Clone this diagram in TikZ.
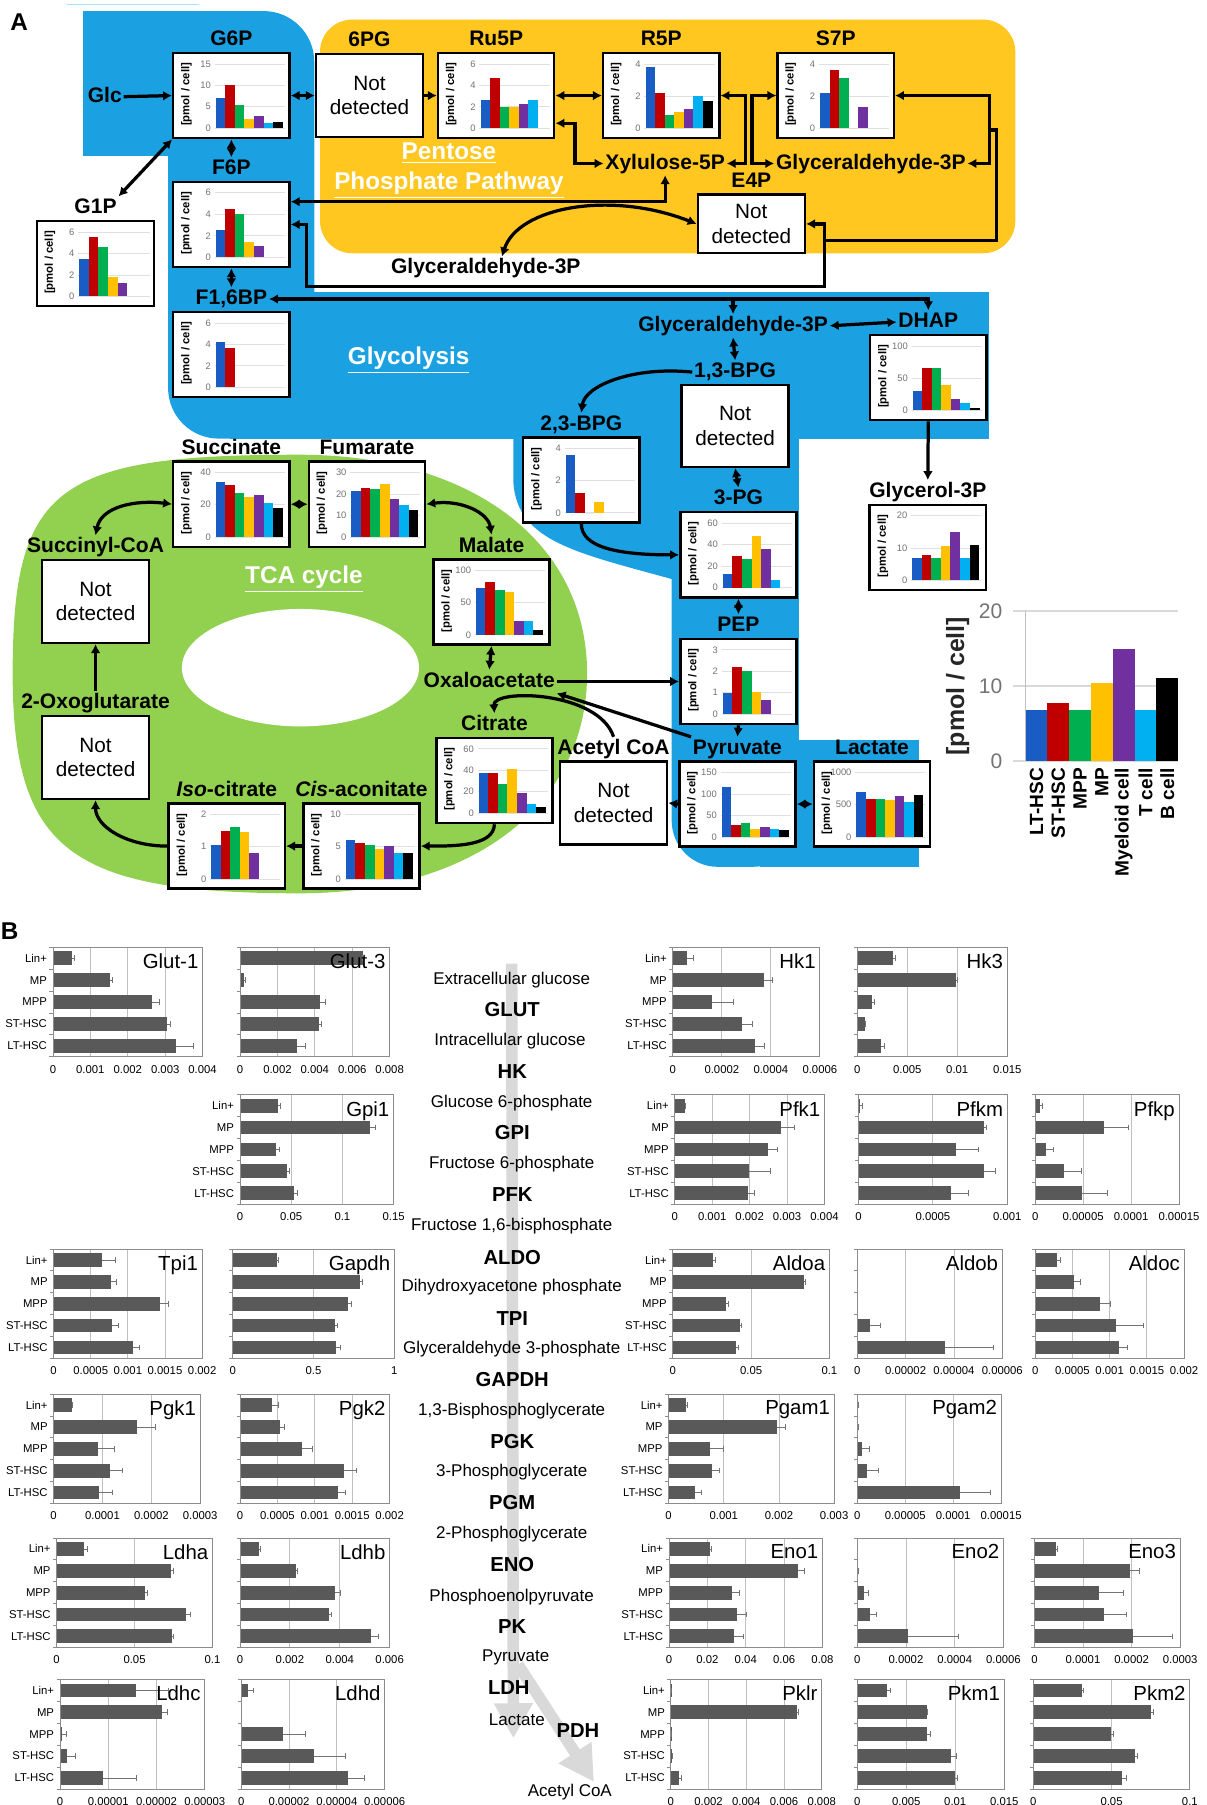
\documentclass[tikz,border=0pt]{standalone}
\usepackage{fontspec}
\setmainfont{Liberation Sans}
\usetikzlibrary{positioning,arrows.meta}
\definecolor{cellc1}{RGB}{24,92,196}
\definecolor{cellc2}{RGB}{192,0,0}
\definecolor{cellc3}{RGB}{0,176,80}
\definecolor{cellc4}{RGB}{255,192,0}
\definecolor{cellc5}{RGB}{112,48,160}
\definecolor{cellc6}{RGB}{0,176,240}
\definecolor{cellc7}{RGB}{0,0,0}
\definecolor{glyblue}{RGB}{27,161,226}
\definecolor{pppyellow}{RGB}{255,199,32}
\definecolor{tcagreen}{RGB}{146,208,80}
\definecolor{hbargray}{RGB}{89,89,89}

\tikzset{
  chartbox/.style={draw, line width=1.5pt, fill=white, inner sep=0pt, minimum width=101*0.025cm, minimum height=74*0.025cm},
  ndbox/.style={draw, line width=1.5pt, fill=white, inner sep=0pt, align=center, minimum width=93*0.025cm, minimum height=72*0.025cm, font=\fontsize{12.8}{15}\selectfont},
  metlbl/.style={font=\bfseries\fontsize{13}{15}\selectfont, inner sep=1pt, text height=9.5pt, text depth=2.6pt},
  reglbl/.style={text=white, align=center, font=\bfseries\fontsize{15}{18.5}\selectfont},
  conn/.style={line width=2pt, >={Latex[length=5.5pt,width=6pt]}},
  minigrid/.style={draw=black!12, line width=0.4pt},
  minitick/.style={text=black!55, anchor=east, inner sep=0pt, font=\fontsize{5.8}{6}\selectfont},
  miniylab/.style={rotate=90, inner sep=0pt, font=\bfseries\fontsize{7}{8}\selectfont},
  hframe/.style={draw=black!45, line width=0.5pt},
  hgrid/.style={draw=black!25, line width=0.5pt},
  hbar/.style={fill=hbargray},
  herr/.style={draw=black!55, line width=0.4pt},
  hcat/.style={anchor=east, inner sep=0pt, font=\fontsize{7}{8}\selectfont},
  htick/.style={inner sep=0pt, font=\fontsize{7}{8}\selectfont},
  htitle/.style={anchor=north east, inner sep=1pt, font=\fontsize{12.6}{14}\selectfont},
  pathtxt/.style={inner sep=1pt, font=\fontsize{10.5}{12}\selectfont},
  enztxt/.style={inner sep=1pt, font=\bfseries\fontsize{12.5}{14}\selectfont},
  flowbar/.style={draw=black!15, line width=0.25cm, -{Triangle[width=0.8cm,length=0.76cm]}},
}

% small metabolite chart: [width]{name}{centre}{max}{ticks}{values}
\newcommand\minichart[6][101]{%
  \node[chartbox, minimum width=#1*0.025cm] (#2) at (#3) {};
  \begin{scope}[shift={(#2.north west)}]
    \foreach \t [count=\j] in {#5} {
      \draw[minigrid] (37,{66.5-56*(\t/#4)}) -- ({#1-3},{66.5-56*(\t/#4)});
      \node[minitick] (#2-t\j) at (34,{66.5-56*(\t/#4)}) {\t};
    }
    \foreach \v [count=\i] in {#6}
      \fill[fill=cellc\i] ({38+8.3*(\i-1)},66.5) rectangle ++(8.3,{-56*(\v/#4)});
    \node[miniylab] (#2-y) at (12.5,37) {[pmol / cell]};
  \end{scope}%
}

% expression chart: [labels 0/1]{left}{top}{width}{intervals}{tick labels}{bar/error}{title}
\newcommand\hchart[8][0]{%
  \begin{scope}[shift={(#2,#3)}]
    \foreach \k in {1,...,#5}
      \draw[hgrid] ({#4*\k/#5},0) -- ({#4*\k/#5},95);
    \foreach \v/\e [count=\i from 0] in {#7} {
      \fill[hbar] (0,{3.5+19*\i}) rectangle ({#4*\v},{15.5+19*\i});
      \draw[herr] ({#4*\v},{9.5+19*\i}) -- ({#4*\e},{9.5+19*\i}) ++(0,-2.5) -- ++(0,5);
    }
    \ifnum#1=1
      \foreach \c [count=\i from 0] in {Lin+,MP,MPP,ST-HSC,LT-HSC}
        \node[hcat] (#8-c\i) at (-5,{9.5+19*\i}) {\c};
    \fi
    \foreach \i in {0,...,5}
      \draw[hframe] (-3,{19*\i}) -- (0,{19*\i});
    \draw[hframe] (0,0) rectangle (#4,95);
    \foreach \t [count=\k from 0] in {#6}
      \node[htick] (#8-t\k) at ({#4*\k/#5},106) {\t};
    \node[htitle] (#8) at ({#4-2},4) {#8};
  \end{scope}%
}

\begin{document}
\begin{tikzpicture}[x=0.025cm, y=-0.025cm]
\useasboundingbox (0,0) rectangle (1048,1568);
% background areas
\fill[tcagreen] (510,585) .. controls (510,700) and (410,776) .. (260,776) .. controls (60,776) and (11,738) .. (11,585) .. controls (11,423) and (48,395) .. (260,395) .. controls (410,395) and (510,471) .. (510,585) -- cycle;
\fill[white] (261,580) ellipse [x radius=103, y radius=51];
\fill[pppyellow, rounded corners=0.7cm] (278,17) rectangle (882,220);
\fill[glyblue] (72,9.6) rectangle (200,135.6);
\fill[glyblue, rounded corners=1.1cm] (146,9.6) rectangle (273,381);
\fill[glyblue] (200,254) rectangle (859,381);
\fill[glyblue, rounded corners=1cm] (583.5,300) rectangle (694,753);
\fill[glyblue] (660,643) rectangle (798.5,753);
\fill[glyblue] (446,370) -- (446,420) .. controls (450,470) and (500,480) .. (583.5,503) -- (600,503) -- (600,370) -- cycle;
\draw[cyan!35, line width=1pt] (58,4) -- (173,4);
\node[font=\bfseries\fontsize{15}{17}\selectfont] (panA) at (16.6,19) {A};
\node[reglbl] (pppl) at (390,148) {\underline{Pentose}\\\underline{Phosphate Pathway}};
\node[reglbl] (glyl) at (355,313) {\underline{Glycolysis}};
\node[reglbl] (tcal) at (264,503) {\underline{TCA cycle}};

% glycolysis and pentose phosphate pathway
\minichart{g6p}{201,83}{15}{0,5,10,15}{7,10,5.5,2.2,2.8,1.2,1.5}
\node[metlbl, above=0pt of g6p] (g6pl) {G6P};
\node[ndbox] (pg6) at (321,83) {Not\\detected};
\node[metlbl, above=0pt of pg6] (pg6l) {6PG};
\minichart{ru5p}{431,83}{6}{0,2,4,6}{2.6,4.7,2,2,2.3,2.6}
\node[metlbl, above=0pt of ru5p] (ru5pl) {Ru5P};
\minichart{r5p}{574.4,83}{4}{0,2,4}{3.8,2.2,0.8,1,1.2,2,1.7}
\node[metlbl, above=0pt of r5p] (r5pl) {R5P};
\minichart{s7p}{726,83}{4}{0,2,4}{2.2,3.6,3.1,0,1.3}
\node[metlbl, above=0pt of s7p] (s7pl) {S7P};
\node[metlbl] (glc) at (91,84) {Glc};
\node[metlbl] (xyl) at (577.8,142) {Xylulose-5P};
\node[metlbl] (gapp) at (756.5,142) {Glyceraldehyde-3P};
\node[ndbox, minimum height=51*0.025cm] (e4p) at (652.7,194.5) {Not\\detected};
\node[metlbl, above=0pt of e4p] (e4pl) {E4P};
\minichart{f6p}{201,195}{6}{0,2,4,6}{2.5,4.5,4,1.4,1}
\node[metlbl, above=0pt of f6p] (f6pl) {F6P};
\minichart[102]{g1p}{83,229}{6}{0,2,4,6}{3.5,5.5,4.6,1.8,1.2}
\node[metlbl, above=0pt of g1p] (g1pl) {G1P};
\node[metlbl] (gapw) at (422,233) {Glyceraldehyde-3P};
\minichart{f16bp}{201,308}{6}{0,2,4,6}{4.2,3.7}
\node[metlbl, above=0pt of f16bp] (f16bpl) {F1,6BP};
\node[metlbl] (gapg) at (636.8,283) {Glyceraldehyde-3P};
\minichart{dhap}{806.4,328}{100}{0,50,100}{30,65,66,40,18,12,3}
\node[metlbl, above=0pt of dhap] (dhapl) {DHAP};
\node[ndbox, minimum height=71*0.025cm] (bpg13) at (638.6,370) {Not\\detected};
\node[metlbl, above=0pt of bpg13] (bpg13l) {1,3-BPG};
\minichart{bpg23}{505,417}{4}{0,2,4}{3.6,1.2,0,0.7}
\node[metlbl, above=0pt of bpg23] (bpg23l) {2,3-BPG};
\minichart{pg3}{641.5,482}{60}{0,20,40,60}{13,29,27,48,36,7}
\node[metlbl, above=0pt of pg3] (pg3l) {3-PG};
\minichart{g3p}{806,475.5}{20}{0,10,20}{7,7.7,7,10.5,15,7,11}
\node[metlbl, above=0pt of g3p] (g3pl) {Glycerol-3P};
\minichart{pep}{641.5,592}{3}{0,1,2,3}{1,2.2,2,1.05,0.65}
\node[metlbl, above=0pt of pep] (pepl) {PEP};
\minichart{pyr}{640.6,698.5}{150}{0,50,100,150}{115,27,33,19,22,19,17}
\node[metlbl, above=0pt of pyr] (pyrl) {Pyruvate};
\minichart{lac}{757.5,698.5}{1000}{0,500,1000}{700,580,580,570,630,540,650}
\node[metlbl, above=0pt of lac] (lacl) {Lactate};
\node[ndbox] (acoa) at (533,697.5) {Not\\detected};
\node[metlbl, above=0pt of acoa] (acoal) {Acetyl CoA};

% TCA cycle
\minichart{suc}{201,438}{40}{0,20,40}{34,32,27,25,26,21,18}
\node[metlbl, above=0pt of suc] (sucl) {Succinate};
\minichart{fum}{318.8,438}{30}{0,10,20,30}{21.5,23,22.5,24.5,17.5,15,12.5}
\node[metlbl, above=0pt of fum] (fuml) {Fumarate};
\minichart{mal}{427,523}{100}{0,50,100}{72,82,70,66,22,22,8}
\node[metlbl, above=0pt of mal] (mall) {Malate};
\node[metlbl] (oxal) at (425,592) {Oxaloacetate};
\minichart{cit}{429.5,678}{60}{0,20,40,60}{37,37,27,41,19,9,6}
\node[metlbl, above=0pt of cit] (citl) {Citrate};
\minichart{cis}{314,735}{10}{0,5,10}{6,5.6,5.2,4.6,5.1,4,4}
\node[metlbl, above=0pt of cis] (cisl) {\textit{Cis}-aconitate};
\minichart{iso}{197,735}{2}{0,1,2}{1.05,1.5,1.6,1.45,0.8}
\node[metlbl, above=0pt of iso] (isol) {\textit{Iso}-citrate};
\node[ndbox] (succoa) at (83,522.5) {Not\\detected};
\node[metlbl, above=0pt of succoa] (succoal) {Succinyl-CoA};
\node[ndbox] (oxo) at (83,658) {Not\\detected};
\node[metlbl, above=0pt of oxo] (oxol) {2-Oxoglutarate};

% connectors
\draw[conn,->] (glc.east) -- (g6p.west);
\draw[conn,<->] (g6p.east) -- (pg6.west);
\draw[conn,->] (pg6.east) -- (ru5p.west);
\draw[conn,<->] (ru5p.east) -- (r5p.west);
\draw[conn,<->] (ru5p.-25) -- ++(17,0) |- (xyl.west);
\draw[conn,<->] (r5p.east) -- ++(21.5,0) |- (xyl.east);
\draw[conn,<->] (s7p.west) -- ++(-21.2,0) |- (gapp.west);
\draw[conn,<->] (s7p.east) -- ++(82,0) |- (gapp.east);
\coordinate (jsa) at (859.3,113);
\coordinate (jeb) at (716.2,209);
\coordinate (jwl) at (266,249);
\draw[conn] (jsa) -- ++(6.4,0) |- (jeb);
\draw[conn,<->] (e4p.east) -| (jeb) |- (jwl) |- (f6p.east);
\draw[conn,<->] (f6p.21) -| (xyl.south);
\draw[conn,<->] ([xshift=0.35cm]gapw.north) .. controls (450,180) and (530,165) .. (e4p.west);
\draw[conn,<->] (g6p.south) -- (f6pl.north);
\draw[conn,<->] (f6p.south) -- (f16bpl.north);
\draw[conn,<->] (g1pl.north east) -- (g6p.south west);
\draw[conn,<->] (f16bpl.east) -| (dhapl.north);
\draw[conn,->] (f16bpl.east -| gapg.north) -- (gapg.north);
\draw[conn,<->] (gapg.east) -- (dhapl.west);
\draw[conn,<->] (gapg.south) -- (bpg13l.north);
\draw[conn,->] (bpg13l.west) .. controls (550,318) and (508,335) .. (bpg23l.north);
\draw[conn,<->] (bpg13.south) -- (pg3l.north);
\draw[conn,->] (bpg23.south) .. controls (505,475) and (535,482) .. (pg3.west);
\draw[conn,->] (dhap.south) -- (g3pl.north);
\draw[conn,<->] (pg3.south) -- (pepl.north);
\draw[conn,->] (pep.south) -- (pyrl.north);
\draw[conn,<->] (pyr.east) -- (lac.west);
\draw[conn,->] (pyr.west) -- (acoa.east);
\draw[conn,->] (oxal.east) -- (pep.west);
\draw[conn,->] (pyrl.north west) -- (oxal.south east);
\draw[conn,->] (acoal.north) .. controls (520,600) and (428,598) .. (citl.north);
\draw[conn,<->] (mal.south) -- (oxal.north);
\draw[conn,->] (cit.south) .. controls (429,735) and (395,735) .. (cis.east);
\draw[conn,->] (cis.west) -- (iso.east);
\draw[conn,->] (iso.west) .. controls (110,735) and (83,718) .. (oxo.south);
\draw[conn,->] (oxol.north) -- (succoa.south);
\draw[conn,<->] (suc.west) .. controls (118,434) and (88,440) .. (succoal.north);
\draw[conn,<->] (suc.east) -- (fum.west);
\draw[conn,<->] (fum.east) .. controls (400,434) and (424,445) .. (mall.north);

% legend chart
\foreach \g [count=\j] in {0,10,20} {
  \draw[black!15, line width=0.8pt] (880,{661-6.515*\g}) -- (1023.5,{661-6.515*\g});
  \node[anchor=east, text=black!55, inner sep=0pt, font=\fontsize{13}{14}\selectfont] (lgt\j) at (871,{661-6.515*\g}) {\g};
}
\draw[black!25, line width=0.8pt] (890.9,530.7) -- (890.9,661);
\foreach \v/\lab [count=\i] in {6.75/LT-HSC,7.7/ST-HSC,6.8/MPP,10.45/MP,14.86/Myeloid cell,6.8/T cell,11.07/B cell} {
  \fill[fill=cellc\i] ({890.9+18.94*(\i-1)},661) rectangle ++(18.94,{-6.515*\v});
  \node[rotate=90, anchor=east, inner sep=0pt, font=\bfseries\fontsize{11.8}{13}\selectfont] (lgc\i) at ({890.9+18.94*(\i-0.5)},667) {\lab};
}
\node[rotate=90, text=black!85, font=\bfseries\fontsize{15.4}{17}\selectfont] (lgy) at (832,596) {[pmol / cell]};

% panel B: glycolysis chain
\node[font=\bfseries\fontsize{15}{17}\selectfont, anchor=west, inner sep=0pt] (panB) at (0.5,809) {B};
\coordinate (ftop) at (444.5,837);
\coordinate (flac) at (446,1510);
\coordinate (fbra) at (450,1446);
\coordinate (facoa) at (516,1548);
\draw[flowbar] (ftop) -- (flac);
\draw[flowbar] (fbra) -- (facoa);
\node[pathtxt] (extglc) at (444.5,851) {Extracellular glucose};
\node[enztxt] (glut) at (445,877) {GLUT};
\node[pathtxt] (intglc) at (443,904) {Intracellular glucose};
\node[enztxt] (hk) at (445,931) {HK};
\node[pathtxt] (g6pb) at (444.5,958) {Glucose 6-phosphate};
\node[enztxt] (gpi) at (445,984) {GPI};
\node[pathtxt] (f6pb) at (444.5,1011) {Fructose 6-phosphate};
\node[enztxt] (pfk) at (445,1038) {PFK};
\node[pathtxt] (fbpb) at (444.5,1065) {Fructose 1,6-bisphosphate};
\node[enztxt] (aldo) at (445,1092) {ALDO};
\node[pathtxt] (dhapb) at (444.5,1118) {Dihydroxyacetone phosphate};
\node[enztxt] (tpi) at (445,1145) {TPI};
\node[pathtxt] (gapb) at (444.5,1172) {Glyceraldehyde 3-phosphate};
\node[enztxt] (gapdh) at (445,1198) {GAPDH};
\node[pathtxt] (bpgb) at (444.5,1226) {1,3-Bisphosphoglycerate};
\node[enztxt] (pgk) at (445,1252) {PGK};
\node[pathtxt] (pg3b) at (444.5,1279) {3-Phosphoglycerate};
\node[enztxt] (pgm) at (445,1305) {PGM};
\node[pathtxt] (pg2b) at (444.5,1333) {2-Phosphoglycerate};
\node[enztxt] (eno) at (445,1359) {ENO};
\node[pathtxt] (pepb) at (444.5,1387) {Phosphoenolpyruvate};
\node[enztxt] (pk) at (445,1413) {PK};
\node[pathtxt] (pyrb) at (448,1440) {Pyruvate};
\node[enztxt] (ldh) at (442,1466) {LDH};
\node[pathtxt] (lacb) at (449,1494) {Lactate};
\node[enztxt] (pdh) at (502,1503) {PDH};
\node[pathtxt] (acoab) at (495,1557) {Acetyl CoA};

% panel B: expression charts
\hchart[1]{46}{823}{130}{4}{0,0.001,0.002,0.003,0.004}{0.125/0.145,0.382/0.395,0.659/0.708,0.762/0.787,0.82/0.94}{Glut-1}
\hchart{208.5}{823}{130}{4}{0,0.002,0.004,0.006,0.008}{0.82/0.82,0.028/0.036,0.535/0.573,0.527/0.545,0.384/0.437}{Glut-3}
\hchart[1]{584.5}{823}{127.7}{3}{0,0.0002,0.0004,0.0006}{0.097/0.137,0.618/0.676,0.268/0.413,0.471/0.539,0.558/0.624}{Hk1}
\hchart{744.7}{823}{130.3}{3}{0,0.005,0.01,0.015}{0.237/0.253,0.657/0.665,0.098/0.111,0.052/0.057,0.16/0.18}{Hk3}
\hchart[1]{208.5}{951}{133.4}{3}{0,0.05,0.1,0.15}{0.249/0.26,0.848/0.878,0.237/0.254,0.309/0.324,0.352/0.372}{Gpi1}
\hchart[1]{586.2}{951}{130}{4}{0,0.001,0.002,0.003,0.004}{0.065/0.072,0.711/0.8,0.62/0.682,0.499/0.638,0.491/0.53}{Pfk1}
\hchart{745.8}{951}{129.2}{2}{0,0.0005,0.001}{0.013/0.023,0.842/0.862,0.655/0.803,0.842/0.92,0.623/0.738}{Pfkm}
\hchart{899.3}{951}{124.9}{3}{0,0.00005,0.0001,0.00015}{0.035/0.048,0.481/0.648,0.078/0.126,0.202/0.323,0.323/0.503}{Pfkp}
\hchart[1]{46.6}{1085}{129}{4}{0,0.0005,0.001,0.0015,0.002}{0.327/0.412,0.384/0.425,0.714/0.773,0.394/0.433,0.534/0.58}{Tpi1}
\hchart{202.2}{1085}{140.4}{2}{0,0.5,1}{0.273/0.282,0.789/0.8,0.711/0.735,0.63/0.645,0.637/0.666}{Gapdh}
\hchart[1]{584.5}{1085}{136}{2}{0,0.05,0.1}{0.257/0.272,0.837/0.849,0.341/0.353,0.432/0.44,0.405/0.417}{Aldoa}
\hchart{744.7}{1085}{126}{3}{0,0.00002,0.00004,0.00006}{0/0,0/0,0/0,0.088/0.16,0.605/0.939}{Aldob}
\hchart{899.3}{1085}{129.3}{4}{0,0.0005,0.001,0.0015,0.002}{0.143/0.169,0.262/0.3,0.436/0.506,0.545/0.727,0.566/0.616}{Aldoc}
\hchart[1]{46.6}{1211}{127.3}{3}{0,0.0001,0.0002,0.0003}{0.123/0.13,0.569/0.692,0.3/0.413,0.384/0.47,0.308/0.4}{Pgk1}
\hchart{208.5}{1211}{130}{4}{0,0.0005,0.001,0.0015,0.002}{0.212/0.258,0.269/0.294,0.417/0.481,0.698/0.78,0.652/0.706}{Pgk2}
\hchart[1]{580.8}{1211}{143.8}{3}{0,0.001,0.002,0.003}{0.107/0.112,0.654/0.703,0.252/0.33,0.264/0.304,0.157/0.199}{Pgam1}
\hchart{744.7}{1211}{125}{3}{0,0.00005,0.0001,0.00015}{0.005/0.005,0.008/0.008,0.032/0.086,0.067/0.148,0.715/0.927}{Pgam2}
\hchart[1]{49.2}{1336}{135.4}{2}{0,0.05,0.1}{0.177/0.194,0.735/0.749,0.57/0.585,0.828/0.855,0.737/0.75}{Ldha}
\hchart{208.5}{1336}{130}{3}{0,0.002,0.004,0.006}{0.13/0.135,0.373/0.38,0.634/0.668,0.596/0.611,0.877/0.923}{Ldhb}
\hchart[1]{581.2}{1336}{133.3}{4}{0,0.02,0.04,0.06,0.08}{0.27/0.277,0.841/0.879,0.408/0.458,0.446/0.504,0.423/0.484}{Eno1}
\hchart{744.7}{1336}{127}{3}{0,0.0002,0.0004,0.0006}{0/0,0.005/0.005,0.048/0.074,0.085/0.127,0.344/0.688}{Eno2}
\hchart{898.6}{1336}{126.6}{3}{0,0.0001,0.0002,0.0003}{0.146/0.157,0.655/0.721,0.443/0.61,0.477/0.629,0.676/0.947}{Eno3}
\hchart[1]{52.2}{1459}{125.7}{3}{0,0.00001,0.00002,0.00003}{0.524/0.749,0.704/0.743,0.013/0.04,0.048/0.106,0.299/0.524}{Ldhc}
\hchart{209.5}{1459}{124.7}{3}{0,0.00002,0.00004,0.00006}{0.048/0.085,0/0,0.293/0.448,0.507/0.728,0.747/0.859}{Ldhd}
\hchart[1]{582.8}{1459}{131}{4}{0,0.002,0.004,0.006,0.008}{0.005/0.005,0.838/0.846,0.005/0.005,0.008/0.008,0.056/0.067}{Pklr}
\hchart{744.7}{1459}{127.7}{3}{0,0.005,0.01,0.015}{0.205/0.224,0.471/0.476,0.471/0.495,0.639/0.671,0.666/0.679}{Pkm1}
\hchart{897.6}{1459}{136}{2}{0,0.05,0.1}{0.311/0.321,0.753/0.765,0.494/0.511,0.647/0.662,0.568/0.593}{Pkm2}
\end{tikzpicture}
\end{document}
